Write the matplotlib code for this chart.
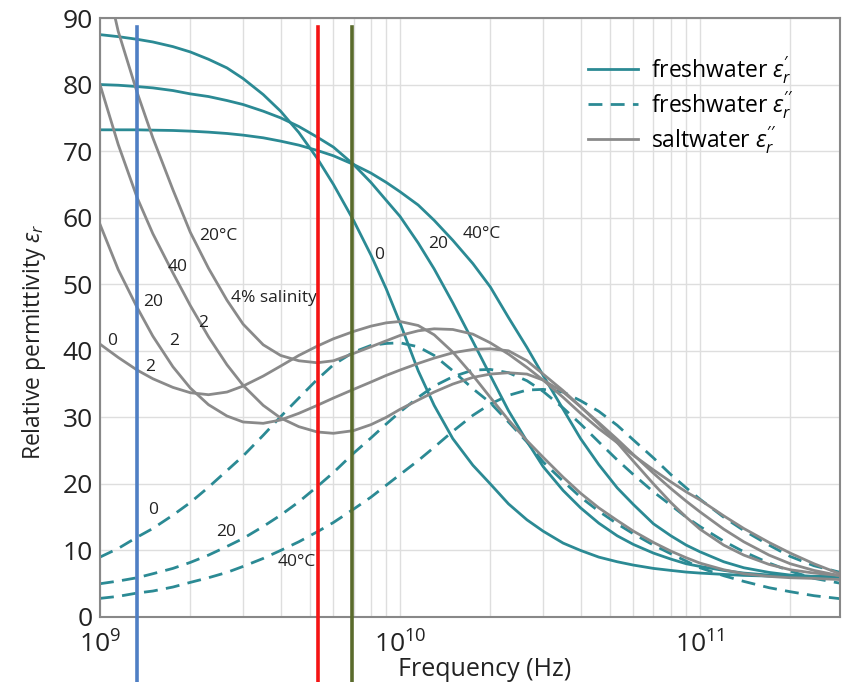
import numpy as np
import matplotlib
matplotlib.use('Agg')
import matplotlib.pyplot as plt
from matplotlib.ticker import FixedLocator, LogLocator, NullFormatter

plt.rcParams['font.family'] = ['Open Sans', 'DejaVu Sans']
plt.rcParams['mathtext.fontset'] = 'custom'
plt.rcParams['mathtext.rm'] = 'Open Sans'
plt.rcParams['mathtext.it'] = 'Open Sans:italic'

# frequencies in GHz
freq_ghz = [1, 1.15, 1.33, 1.5, 1.75, 2, 2.3, 2.65, 3, 3.5, 4, 4.6, 5.3, 6, 7, 8, 9, 10,
            11.5, 13, 15, 17.5, 20, 23, 26.5, 30, 35, 40, 46, 53, 60, 70, 80, 90, 100,
            120, 140, 170, 200, 240, 300]

# freshwater eps' at 0, 20, 40 C
fresh_re_0 = [87.5, 87.2, 86.8, 86.4, 85.7, 84.9, 83.8, 82.5, 80.9, 78.5, 76.0, 72.8, 68.9, 65.0,
              59.6, 54.4, 49.3, 44.2, 37.0, 31.8, 26.8, 22.8, 20.0, 17.0, 14.6, 12.9, 11.1, 10.0,
              9.0, 8.3, 7.8, 7.3, 7.0, 6.75, 6.6, 6.4, 6.25, 6.15, 6.1, 6.05, 6.0]
fresh_re_20 = [80.0, 79.9, 79.7, 79.5, 79.1, 78.6, 78.2, 77.6, 77.0, 76.0, 75.0, 73.7, 72.1, 70.6,
               68.0, 65.3, 62.6, 60.2, 56.2, 52.3, 47.2, 41.4, 36.3, 31.0, 26.4, 22.6, 19.0, 16.4,
               14.1, 12.2, 10.9, 9.6, 8.7, 8.0, 7.6, 7.0, 6.6, 6.3, 6.15, 6.1, 6.0]
fresh_re_40 = [73.2, 73.2, 73.2, 73.15, 73.1, 73.0, 72.85, 72.65, 72.4, 72.0, 71.5, 70.9, 70.1, 69.3,
               68.0, 66.7, 65.3, 63.9, 61.9, 59.6, 56.6, 53.1, 49.6, 45.0, 40.5, 36.3, 31.2, 26.8,
               22.9, 19.4, 16.9, 14.0, 12.2, 10.8, 9.8, 8.3, 7.4, 6.7, 6.3, 6.1, 6.0]

# freshwater eps''
fresh_im_0 = [9.0, 10.3, 12.0, 13.3, 15.3, 17.2, 19.5, 22.0, 24.2, 27.3, 30.1, 32.9, 35.7, 37.9,
              39.8, 40.8, 41.1, 41.2, 40.6, 39.3, 37.0, 34.3, 32.2, 29.3, 26.3, 23.3, 20.4, 18.0,
              15.9, 14.0, 12.5, 10.8, 9.5, 8.4, 7.4, 6.2, 5.35, 4.4, 3.8, 3.2, 2.7]
fresh_im_20 = [5.0, 5.4, 5.9, 6.5, 7.3, 8.2, 9.3, 10.6, 11.8, 13.6, 15.3, 17.3, 19.6, 21.7,
               24.6, 26.9, 29.0, 30.8, 33.0, 34.7, 36.1, 37.1, 37.2, 36.7, 35.5, 33.9, 31.4, 29.0,
               26.3, 23.6, 21.4, 18.8, 16.8, 15.0, 13.6, 11.4, 9.8, 8.1, 6.9, 5.8, 5.0]
fresh_im_40 = [2.8, 3.1, 3.6, 3.9, 4.5, 5.2, 5.9, 6.7, 7.6, 8.8, 10.0, 11.3, 12.8, 14.2,
               16.2, 18.0, 19.8, 21.4, 23.5, 25.5, 27.9, 30.3, 32.0, 33.3, 34.1, 34.2, 33.8, 32.5,
               30.9, 28.8, 26.6, 23.9, 21.4, 19.4, 17.7, 15.0, 13.0, 10.8, 9.1, 7.7, 6.6]

# saltwater eps'' (20 C 4%, 40 C 2%, 20 C 2%, 0 C 2%)
salt_20_4 = [100.0, 88.0, 78.8, 72.0, 64.2, 57.8, 52.4, 47.6, 44.0, 40.9, 39.3, 38.5, 38.2, 38.5,
             39.6, 40.6, 41.5, 42.3, 43.0, 43.3, 43.2, 42.5, 41.2, 39.5, 37.5, 35.6, 33.0, 30.6,
             28.3, 26.2, 24.3, 22.1, 20.3, 18.8, 17.6, 15.2, 13.3, 11.2, 9.6, 8.0, 6.3]
salt_40_2 = [80.0, 71.0, 63.0, 57.6, 51.7, 46.8, 42.1, 37.9, 34.8, 31.8, 29.9, 28.6, 27.8, 27.6,
             28.0, 28.9, 30.0, 31.2, 32.6, 33.8, 35.0, 36.0, 36.5, 36.7, 36.5, 35.6, 33.8, 31.6,
             29.0, 26.2, 23.4, 20.0, 17.2, 15.0, 13.2, 10.8, 9.3, 7.9, 7.1, 6.6, 6.2]
salt_20_2 = [59.0, 52.2, 46.5, 42.2, 37.6, 34.4, 31.9, 30.2, 29.3, 29.1, 29.6, 30.6, 31.8, 32.9,
             34.2, 35.3, 36.3, 37.1, 38.1, 38.9, 39.7, 40.2, 40.3, 40.0, 38.5, 36.5, 34.0, 31.6,
             29.2, 26.7, 24.4, 21.6, 19.3, 17.4, 15.8, 13.2, 11.3, 9.3, 8.0, 7.0, 6.1]
salt_0_2 = [41.0, 39.0, 37.1, 35.8, 34.5, 33.7, 33.4, 33.8, 34.7, 36.2, 37.7, 39.3, 40.7, 41.8,
            42.9, 43.7, 44.2, 44.4, 43.8, 42.4, 39.8, 36.3, 33.0, 29.6, 26.5, 24.0, 21.0, 18.6,
            16.4, 14.5, 12.9, 11.2, 9.9, 8.9, 8.1, 7.1, 6.5, 6.1, 5.9, 5.8, 5.6]

marker_ghz = [1.33, 5.35, 6.93]
marker_colors = ['#4f7fc4', '#f51414', '#5a6b2c']

teal = '#2b8a94'
grey = '#8a8a8a'

f = np.array(freq_ghz) * 1e9

fig = plt.figure(figsize=(8.51, 6.82), dpi=100)
ax = fig.add_axes([100 / 851, 65 / 682, 740 / 851, 599 / 682])

lw = 2.0
dash = (0, (5, 3))
for ys in [fresh_re_0, fresh_re_20, fresh_re_40]:
    ax.plot(f, ys, color=teal, lw=lw)
for ys in [fresh_im_0, fresh_im_20, fresh_im_40]:
    ax.plot(f, ys, color=teal, lw=lw, ls=dash)
for ys in [salt_20_4, salt_40_2, salt_20_2, salt_0_2]:
    ax.plot(f, ys, color=grey, lw=lw)

for g, c in zip(marker_ghz, marker_colors):
    ax.axvline(g * 1e9, ymin=-0.12, ymax=0.985, color=c, lw=2.6, clip_on=False, zorder=5)

ax.set_xscale('log')
ax.set_xlim(1e9, 2.93e11)
ax.set_ylim(0, 90)

ax.xaxis.set_major_locator(FixedLocator([1e9, 1e10, 1e11]))
ax.xaxis.set_minor_locator(LogLocator(base=10, subs=np.arange(2, 10)))
ax.xaxis.set_minor_formatter(NullFormatter())
ax.set_xticklabels([r'$\mathregular{10^{9}}$', r'$\mathregular{10^{10}}$', r'$\mathregular{10^{11}}$'])
ax.set_yticks(range(0, 91, 10))

ax.grid(True, which='both', color='#dedede', lw=1.0)
ax.set_axisbelow(True)
ax.tick_params(which='both', length=0, labelsize=19, colors='#222222', pad=5)
ax.tick_params(axis='x', pad=10.5)
for s in ax.spines.values():
    s.set_color('#888888')
    s.set_linewidth(1.5)

ax.set_xlabel('Frequency (Hz)', fontsize=18, color='#222222')
ax.xaxis.set_label_coords(0.52, -0.066)
ax.set_ylabel(r'Relative permittivity $\mathit{\varepsilon_r}$', fontsize=16.5, color='#222222')
ax.yaxis.set_label_coords(-0.07, 0.46)

# curve labels
lab = dict(fontsize=12.5, color='#222222', ha='center', va='center')
ax.text(2.47e9, 57.2, '20°C', **lab)
ax.text(1.82e9, 52.6, '40', **lab)
ax.text(1.5e9, 47.4, '20', **lab)
ax.text(1.1e9, 41.4, '0', **lab)
ax.text(3.8e9, 47.9, '4% salinity', **lab)
ax.text(2.21e9, 44.1, '2', **lab)
ax.text(1.76e9, 41.4, '2', **lab)
ax.text(1.47e9, 37.6, '2', **lab)
ax.text(8.5e9, 54.4, '0', **lab)
ax.text(1.34e10, 56.1, '20', **lab)
ax.text(1.87e10, 57.6, '40°C', **lab)
ax.text(1.5e9, 16.1, '0', **lab)
ax.text(2.63e9, 12.8, '20', **lab)
ax.text(4.52e9, 8.3, '40°C', **lab)

handles = [
    plt.Line2D([], [], color=teal, lw=lw),
    plt.Line2D([], [], color=teal, lw=lw, ls=dash),
    plt.Line2D([], [], color=grey, lw=lw),
]
labels = [r'freshwater $\mathit{\varepsilon_r^{\prime}}$',
          r'freshwater $\mathit{\varepsilon_r^{\prime\prime}}$',
          r'saltwater $\mathit{\varepsilon_r^{\prime\prime}}$']
ax.legend(handles, labels, loc='upper left', bbox_to_anchor=(0.647, 0.955), borderaxespad=0,
          frameon=False, fontsize=16.5, handlelength=2.2, labelspacing=0.15, handletextpad=0.55)

fig.savefig('out.png', dpi=100)
